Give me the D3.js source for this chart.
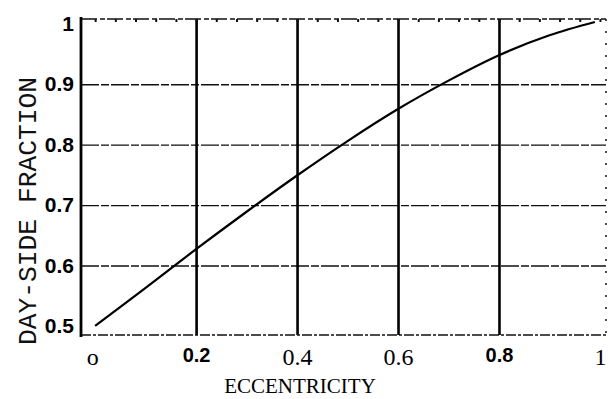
<!DOCTYPE html>
<html>
<head>
<meta charset="utf-8">
<script src="https://cdn.jsdelivr.net/npm/d3@7"></script>
<style>
  body { margin: 0; background: #fff; }
  svg { display: block; }
</style>
</head>
<body>
<div id="chart"></div>
<script>
// values
const eccentricity = [0, 0.1, 0.2, 0.3, 0.4, 0.5, 0.6, 0.7, 0.8, 0.9, 0.99];
const dayFraction = [0.5, 0.563, 0.627, 0.689, 0.749, 0.806, 0.859, 0.906, 0.948, 0.981, 1.003];
const xTickValues = [0, 0.2, 0.4, 0.6, 0.8, 1];
const xTickLabels = ['o', '0.2', '0.4', '0.6', '0.8', '1'];
const yTickValues = [0.5, 0.6, 0.7, 0.8, 0.9, 1];
const yTickLabels = ['0.5', '0.6', '0.7', '0.8', '0.9', '1'];
const xTitle = 'ECCENTRICITY';
const yTitle = 'DAY-SIDE FRACTION';

const width = 608, height = 399;
const plotLeft = 81, plotRight = 606, plotTop = 19, plotBottom = 335;

const svg = d3.select('#chart').append('svg')
  .attr('width', width)
  .attr('height', height);

const x = d3.scaleLinear().domain([-0.028, 1.012]).range([plotLeft, plotRight]);
const y = d3.scaleLinear().domain([0.485, 1.008]).range([plotBottom, plotTop]);

// horizontal grid: thin dashed lines
svg.append('g')
  .attr('transform', `translate(${plotLeft},0)`)
  .call(d3.axisLeft(y).tickValues(yTickValues.slice(1, -1)).tickSize(-(plotRight - plotLeft)).tickFormat(''))
  .call(g => g.select('.domain').remove())
  .call(g => g.selectAll('line')
    .attr('stroke', '#111').attr('stroke-width', 1.4).attr('stroke-dasharray', '18,2,8,2'));

// vertical grid: heavy solid lines
svg.append('g')
  .attr('transform', `translate(0,${plotBottom})`)
  .call(d3.axisBottom(x).tickValues(xTickValues.slice(1, -1)).tickSize(-(plotBottom - plotTop)).tickFormat(''))
  .call(g => g.select('.domain').remove())
  .call(g => g.selectAll('line').attr('stroke', '#000').attr('stroke-width', 2.6));

// frame: top dashed, bottom dashed, right dotted, left heavy
svg.append('line').attr('x1', plotLeft).attr('x2', plotRight).attr('y1', plotTop).attr('y2', plotTop)
  .attr('stroke', '#111').attr('stroke-width', 1.5).attr('stroke-dasharray', '16,3,5,2');
svg.append('line').attr('x1', plotLeft).attr('x2', plotRight).attr('y1', plotBottom).attr('y2', plotBottom)
  .attr('stroke', '#111').attr('stroke-width', 1.5).attr('stroke-dasharray', '10,2,3,2');
svg.append('line').attr('x1', plotRight).attr('x2', plotRight).attr('y1', plotTop).attr('y2', plotBottom)
  .attr('stroke', '#222').attr('stroke-width', 1.6).attr('stroke-dasharray', '2,10');
svg.append('line').attr('x1', plotLeft).attr('x2', plotLeft).attr('y1', plotTop - 2).attr('y2', plotBottom + 2)
  .attr('stroke', '#000').attr('stroke-width', 2.8);

// small minor ticks along the top edge
svg.append('g')
  .attr('transform', `translate(0,${plotTop})`)
  .call(d3.axisBottom(x).tickValues(d3.range(0, 1.001, 0.04)).tickSize(3).tickFormat(''))
  .call(g => g.select('.domain').remove())
  .call(g => g.selectAll('line').attr('stroke', '#111').attr('stroke-width', 2));

// the curve
const line = d3.line()
  .x((d, i) => x(eccentricity[i]))
  .y(d => y(d))
  .curve(d3.curveCatmullRom);

svg.append('path')
  .datum(dayFraction)
  .attr('fill', 'none')
  .attr('stroke', '#000')
  .attr('stroke-width', 2.2)
  .attr('d', line);

// y tick labels (bold sans)
svg.append('g')
  .attr('transform', `translate(${plotLeft},0)`)
  .call(d3.axisLeft(y).tickValues(yTickValues).tickSize(0).tickPadding(7)
    .tickFormat((d, i) => yTickLabels[i]))
  .call(g => g.select('.domain').remove())
  .call(g => g.selectAll('text')
    .attr('font-family', '"Liberation Sans", Arial, sans-serif')
    .attr('font-size', 21).attr('font-weight', 'bold').attr('fill', '#000'));

// x tick labels (mixed fonts from the scan)
const boldX = [1, 4];
svg.append('g')
  .attr('transform', `translate(0,${plotBottom})`)
  .call(d3.axisBottom(x).tickValues(xTickValues).tickSize(0).tickPadding(13)
    .tickFormat((d, i) => xTickLabels[i]))
  .call(g => g.select('.domain').remove())
  .call(g => g.selectAll('text')
    .attr('fill', '#000')
    .attr('font-family', (d, i) => boldX.includes(i) ? '"Liberation Sans", Arial, sans-serif' : '"Liberation Serif", "Times New Roman", serif')
    .attr('font-weight', (d, i) => boldX.includes(i) ? 'bold' : 'normal')
    .attr('font-size', (d, i) => boldX.includes(i) ? 20 : 24)
    .attr('dx', (d, i) => i === 0 ? -3 : 0));

// axis titles
svg.append('text')
  .attr('x', 300).attr('y', 393)
  .attr('text-anchor', 'middle')
  .attr('font-family', '"Liberation Serif", "Times New Roman", serif')
  .attr('font-size', 21)
  .attr('fill', '#000')
  .text(xTitle);

svg.append('text')
  .attr('transform', 'translate(36,211) rotate(-90)')
  .attr('text-anchor', 'middle')
  .attr('font-family', '"Liberation Mono", "DejaVu Sans Mono", monospace')
  .attr('font-size', 26)
  .attr('textLength', 268)
  .attr('lengthAdjust', 'spacingAndGlyphs')
  .attr('fill', '#111')
  .text(yTitle);
</script>
</body>
</html>
